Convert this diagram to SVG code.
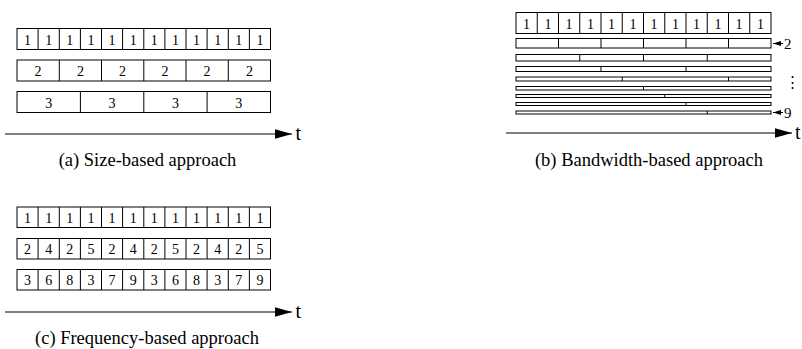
<svg xmlns="http://www.w3.org/2000/svg" width="802" height="349" viewBox="0 0 802 349">
<style>
.c{fill:#fff;stroke:#000;stroke-width:1}
.d{stroke:#000;stroke-width:1}
.n{font-family:"Liberation Serif","Times New Roman",serif;font-size:14px;text-anchor:middle;fill:#000}
.cap{font-family:"Liberation Serif","Times New Roman",serif;font-size:18.5px;text-anchor:middle;fill:#000}
.t{font-family:"Liberation Serif","Times New Roman",serif;font-size:20px;fill:#000}
.ax{stroke:#000;stroke-width:1.2}
.lb{font-family:"Liberation Serif","Times New Roman",serif;font-size:15px;fill:#000}
</style>
<defs>
<marker id="ah" markerWidth="17" markerHeight="10" refX="17" refY="5" orient="auto" markerUnits="userSpaceOnUse">
<path d="M0,0.3 L17,5 L0,9.7 Z" fill="#000"/>
</marker>
<marker id="sh" markerWidth="8" markerHeight="6" refX="8" refY="3" orient="auto" markerUnits="userSpaceOnUse">
<path d="M0,0.5 L8,3 L0,5.5 Z" fill="#000"/>
</marker>
</defs>

<!-- Panel (a) -->
<g id="a-row1">
<rect class="c" x="17" y="28.5" width="253.5" height="21"/>
<path class="d" d="M38.1,28.5V49.5M59.3,28.5V49.5M80.4,28.5V49.5M101.5,28.5V49.5M122.6,28.5V49.5M143.8,28.5V49.5M164.9,28.5V49.5M186,28.5V49.5M207.1,28.5V49.5M228.3,28.5V49.5M249.4,28.5V49.5"/>
<g class="n"><text x="27.6" y="44.5">1</text><text x="48.7" y="44.5">1</text><text x="69.8" y="44.5">1</text><text x="90.9" y="44.5">1</text><text x="112.1" y="44.5">1</text><text x="133.2" y="44.5">1</text><text x="154.3" y="44.5">1</text><text x="175.4" y="44.5">1</text><text x="196.6" y="44.5">1</text><text x="217.7" y="44.5">1</text><text x="238.8" y="44.5">1</text><text x="259.9" y="44.5">1</text></g>
</g>
<g id="a-row2">
<rect class="c" x="17" y="60" width="253.5" height="21"/>
<path class="d" d="M59.3,60V81M101.5,60V81M143.8,60V81M186,60V81M228.3,60V81"/>
<g class="n"><text x="38.1" y="76">2</text><text x="80.4" y="76">2</text><text x="122.6" y="76">2</text><text x="164.9" y="76">2</text><text x="207.1" y="76">2</text><text x="249.4" y="76">2</text></g>
</g>
<g id="a-row3">
<rect class="c" x="17" y="91.5" width="253.5" height="21"/>
<path class="d" d="M80.4,91.5V112.5M143.8,91.5V112.5M207.1,91.5V112.5"/>
<g class="n"><text x="48.7" y="107.5">3</text><text x="112.1" y="107.5">3</text><text x="175.4" y="107.5">3</text><text x="238.8" y="107.5">3</text></g>
</g>
<g id="a-axis">
<line class="ax" x1="5" y1="134" x2="292" y2="134" marker-end="url(#ah)"/>
<text class="t" x="295.5" y="140">t</text>
</g>
<text id="a-caption" class="cap" x="147.5" y="166">(a) Size-based approach</text>

<!-- Panel (b) -->
<g id="b-row1">
<rect class="c" x="516" y="12.5" width="255" height="21"/>
<path class="d" d="M537.25,12.5V33.5M558.5,12.5V33.5M579.75,12.5V33.5M601,12.5V33.5M622.25,12.5V33.5M643.5,12.5V33.5M664.75,12.5V33.5M686,12.5V33.5M707.25,12.5V33.5M728.5,12.5V33.5M749.75,12.5V33.5"/>
<g class="n"><text x="526.6" y="28.5">1</text><text x="547.9" y="28.5">1</text><text x="569.1" y="28.5">1</text><text x="590.4" y="28.5">1</text><text x="611.6" y="28.5">1</text><text x="632.9" y="28.5">1</text><text x="654.1" y="28.5">1</text><text x="675.4" y="28.5">1</text><text x="696.6" y="28.5">1</text><text x="717.9" y="28.5">1</text><text x="739.1" y="28.5">1</text><text x="760.4" y="28.5">1</text></g>
</g>
<g id="b-row2">
<rect class="c" x="516" y="38.5" width="255" height="9.5"/>
<path class="d" d="M558.5,38.5V48M601,38.5V48M643.5,38.5V48M686,38.5V48M728.5,38.5V48"/>
</g>
<g id="b-row3">
<rect class="c" x="516" y="54.5" width="255" height="6.5"/>
<path class="d" d="M579.75,54.5V61M643.5,54.5V61M707.25,54.5V61"/>
</g>
<g id="b-row4">
<rect class="c" x="516" y="66.5" width="255" height="5"/>
<path class="d" d="M601,66.5V71.5M686,66.5V71.5"/>
</g>
<g id="b-row5">
<rect class="c" x="516" y="77" width="255" height="4"/>
<path class="d" d="M622.25,77V81M728.5,77V81"/>
</g>
<g id="b-row6">
<rect class="c" x="516" y="86.5" width="255" height="3.5"/>
<path class="d" d="M643.5,86.5V90"/>
</g>
<g id="b-row7">
<rect class="c" x="516" y="94.5" width="255" height="3"/>
<path class="d" d="M664.75,94.5V97.5"/>
</g>
<g id="b-row8">
<rect class="c" x="516" y="102.5" width="255" height="3"/>
<path class="d" d="M686,102.5V105.5"/>
</g>
<g id="b-row9">
<rect class="c" x="516" y="111" width="255" height="3"/>
<path class="d" d="M707.25,111V114"/>
</g>
<g id="b-labels">
<line x1="783" y1="43.5" x2="773" y2="43.5" stroke="#000" stroke-width="1" marker-end="url(#sh)"/>
<text class="lb" x="784" y="48.5">2</text>
<text class="lb" x="785" y="87">⋮</text>
<line x1="783" y1="112.5" x2="773" y2="112.5" stroke="#000" stroke-width="1" marker-end="url(#sh)"/>
<text class="lb" x="784" y="117.5">9</text>
</g>
<g id="b-axis">
<line class="ax" x1="506" y1="133" x2="792" y2="133" marker-end="url(#ah)"/>
<text class="t" x="795" y="139">t</text>
</g>
<text id="b-caption" class="cap" x="649" y="166">(b) Bandwidth-based approach</text>

<!-- Panel (c) -->
<g id="c-row1">
<rect class="c" x="17" y="207" width="253.5" height="20.5"/>
<path class="d" d="M38.1,207V227.5M59.3,207V227.5M80.4,207V227.5M101.5,207V227.5M122.6,207V227.5M143.8,207V227.5M164.9,207V227.5M186,207V227.5M207.1,207V227.5M228.3,207V227.5M249.4,207V227.5"/>
<g class="n"><text x="27.6" y="222.5">1</text><text x="48.7" y="222.5">1</text><text x="69.8" y="222.5">1</text><text x="90.9" y="222.5">1</text><text x="112.1" y="222.5">1</text><text x="133.2" y="222.5">1</text><text x="154.3" y="222.5">1</text><text x="175.4" y="222.5">1</text><text x="196.6" y="222.5">1</text><text x="217.7" y="222.5">1</text><text x="238.8" y="222.5">1</text><text x="259.9" y="222.5">1</text></g>
</g>
<g id="c-row2">
<rect class="c" x="17" y="238.5" width="253.5" height="20.5"/>
<path class="d" d="M38.1,238.5V259M59.3,238.5V259M80.4,238.5V259M101.5,238.5V259M122.6,238.5V259M143.8,238.5V259M164.9,238.5V259M186,238.5V259M207.1,238.5V259M228.3,238.5V259M249.4,238.5V259"/>
<g class="n"><text x="27.6" y="254">2</text><text x="48.7" y="254">4</text><text x="69.8" y="254">2</text><text x="90.9" y="254">5</text><text x="112.1" y="254">2</text><text x="133.2" y="254">4</text><text x="154.3" y="254">2</text><text x="175.4" y="254">5</text><text x="196.6" y="254">2</text><text x="217.7" y="254">4</text><text x="238.8" y="254">2</text><text x="259.9" y="254">5</text></g>
</g>
<g id="c-row3">
<rect class="c" x="17" y="269.5" width="253.5" height="20.5"/>
<path class="d" d="M38.1,269.5V290M59.3,269.5V290M80.4,269.5V290M101.5,269.5V290M122.6,269.5V290M143.8,269.5V290M164.9,269.5V290M186,269.5V290M207.1,269.5V290M228.3,269.5V290M249.4,269.5V290"/>
<g class="n"><text x="27.6" y="285">3</text><text x="48.7" y="285">6</text><text x="69.8" y="285">8</text><text x="90.9" y="285">3</text><text x="112.1" y="285">7</text><text x="133.2" y="285">9</text><text x="154.3" y="285">3</text><text x="175.4" y="285">6</text><text x="196.6" y="285">8</text><text x="217.7" y="285">3</text><text x="238.8" y="285">7</text><text x="259.9" y="285">9</text></g>
</g>
<g id="c-axis">
<line class="ax" x1="5" y1="312" x2="292" y2="312" marker-end="url(#ah)"/>
<text class="t" x="295.5" y="318">t</text>
</g>
<text id="c-caption" class="cap" x="147" y="344">(c) Frequency-based approach</text>
</svg>
